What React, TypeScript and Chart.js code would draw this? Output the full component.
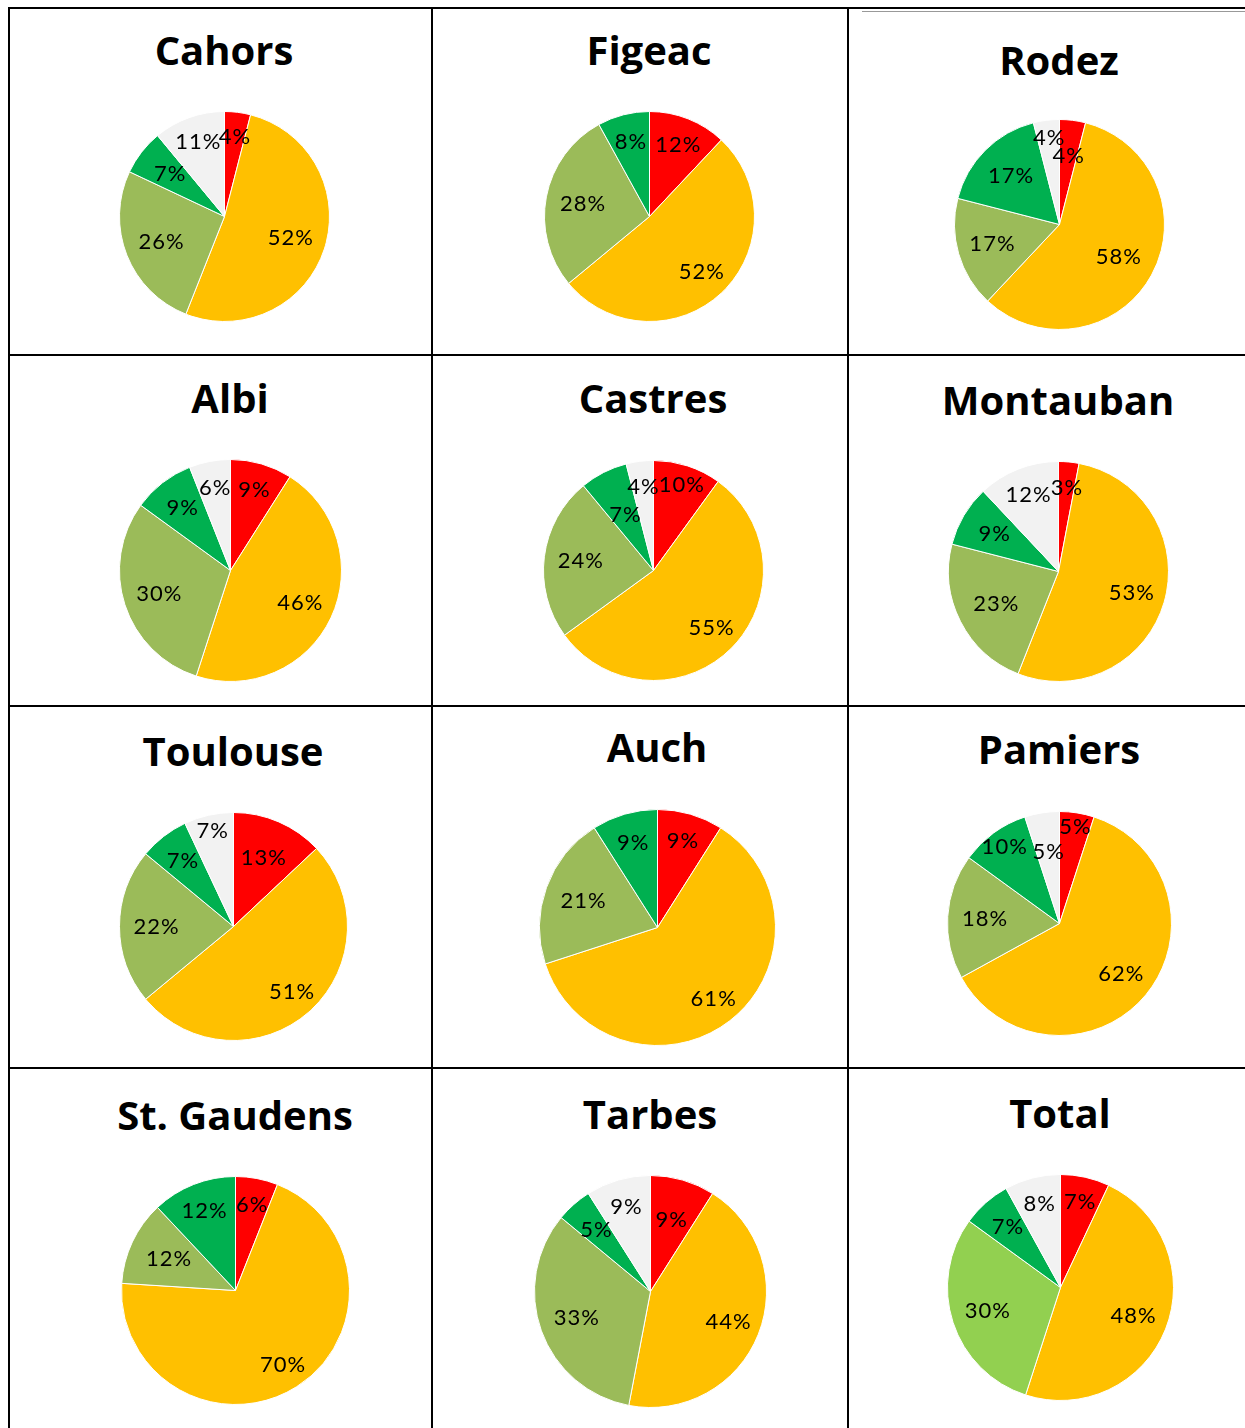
import React, { useEffect, useRef } from "react";
import { Chart, registerables } from "chart.js";

Chart.register(...registerables);

// Slice order (clockwise from 12 o'clock): red, yellow, olive, green, white
const sliceNames = ["Rouge", "Jaune", "Vert clair", "Vert", "Blanc"];
const cities = [
  "Cahors", "Figeac", "Rodez",
  "Albi", "Castres", "Montauban",
  "Toulouse", "Auch", "Pamiers",
  "St. Gaudens", "Tarbes", "Total",
];
const cahors = [4, 52, 26, 7, 11];
const figeac = [12, 52, 28, 8, 0];
const rodez = [4, 58, 17, 17, 4];
const albi = [9, 46, 30, 9, 6];
const castres = [10, 55, 24, 7, 4];
const montauban = [3, 53, 23, 9, 12];
const toulouse = [13, 51, 22, 7, 7];
const auch = [9, 61, 21, 9, 0];
const pamiers = [5, 62, 18, 10, 5];
const stGaudens = [6, 70, 12, 12, 0];
const tarbes = [9, 44, 33, 5, 9];
const total = [7, 48, 30, 7, 8];
const seriesValues = [
  cahors, figeac, rodez,
  albi, castres, montauban,
  toulouse, auch, pamiers,
  stGaudens, tarbes, total,
];

const baseColors = ["#FF0000", "#FFC000", "#9BBB59", "#00B050", "#F2F2F2"];
const totalColors = ["#FF0000", "#FFC000", "#92D050", "#00B050", "#F2F2F2"];

// Layout (page coordinates): pie centre, radius, title centre y,
// and label distance from the centre as a fraction of the radius (per slice)
const layout = [
  { cx: 224, cy: 216, r: 105, ty: 50, lf: [0.76, 0.66, 0.65, 0.66, 0.75] },
  { cx: 649, cy: 216, r: 105, ty: 50, lf: [0.73, 0.72, 0.65, 0.73, 0.7] },
  { cx: 1059, cy: 224, r: 105, ty: 60, lf: [0.66, 0.64, 0.67, 0.66, 0.83] },
  { cx: 230, cy: 570, r: 111, ty: 398, lf: [0.76, 0.69, 0.68, 0.71, 0.76] },
  { cx: 653, cy: 570, r: 110, ty: 398, lf: [0.82, 0.74, 0.67, 0.57, 0.77] },
  { cx: 1058, cy: 571, r: 110, ty: 400, lf: [0.76, 0.69, 0.64, 0.68, 0.75] },
  { cx: 233, cy: 926, r: 114, ty: 751, lf: [0.66, 0.77, 0.68, 0.73, 0.86] },
  { cx: 657, cy: 927, r: 118, ty: 747, lf: [0.76, 0.77, 0.67, 0.75, 0.7] },
  { cx: 1059, cy: 923, r: 112, ty: 749, lf: [0.875, 0.71, 0.67, 0.84, 0.65] },
  { cx: 235, cy: 1290, r: 114, ty: 1115, lf: [0.76, 0.77, 0.65, 0.75, 0.7] },
  { cx: 650, cy: 1291, r: 116, ty: 1114, lf: [0.64, 0.72, 0.68, 0.71, 0.76] },
  { cx: 1060, cy: 1287, r: 113, ty: 1113, lf: [0.78, 0.69, 0.68, 0.71, 0.76] },
];

const labelPlugin = {
  id: "pctLabels",
  afterDatasetsDraw(chart: any, _args: any, opts: any) {
    const ctx = chart.ctx;
    const meta = chart.getDatasetMeta(0);
    const data = chart.data.datasets[0].data as number[];
    const lf: number[] = opts.lf || [];
    ctx.save();
    ctx.font = '22px Lato, "Open Sans", sans-serif';
    try {
      (ctx as any).letterSpacing = "1px";
    } catch (e) {}
    ctx.fillStyle = "#000";
    ctx.textAlign = "center";
    ctx.textBaseline = "middle";
    meta.data.forEach((arc: any, i: number) => {
      const v = data[i];
      if (!v) return;
      const { startAngle, endAngle, outerRadius, x, y } = arc.getProps(
        ["startAngle", "endAngle", "outerRadius", "x", "y"],
        true
      );
      const mid = (startAngle + endAngle) / 2;
      const f = lf[i] ?? 0.72;
      const lx = x + Math.cos(mid) * outerRadius * f;
      const ly = y + Math.sin(mid) * outerRadius * f;
      ctx.fillText(v + "%", lx + 0.5, ly);
    });
    ctx.restore();
  },
};

function Pie({ idx }: { idx: number }) {
  const ref = useRef<HTMLCanvasElement>(null);
  const L = layout[idx];
  const size = 2 * L.r + 1;
  useEffect(() => {
    if (!ref.current) return;
    const chart = new Chart(ref.current, {
      type: "pie",
      data: {
        labels: sliceNames,
        datasets: [
          {
            data: seriesValues[idx],
            backgroundColor: idx === 11 ? totalColors : baseColors,
            borderColor: "#FFFFFF",
            borderWidth: 1,
          },
        ],
      },
      options: {
        responsive: false,
        animation: false,
        devicePixelRatio: 1,
        layout: { padding: 0 },
        plugins: {
          legend: { display: false },
          tooltip: { enabled: false },
          title: { display: false },
          pctLabels: { lf: L.lf },
        } as any,
      },
      plugins: [labelPlugin],
    });
    return () => chart.destroy();
  }, [idx]);
  return (
    <>
      <canvas
        ref={ref}
        width={size}
        height={size}
        style={{
          position: "absolute",
          left: L.cx - size / 2,
          top: L.cy - size / 2,
          width: size,
          height: size,
        }}
      />
      <div
        style={{
          position: "absolute",
          left: L.cx - 200,
          width: 400,
          top: L.ty - 25,
          height: 50,
          lineHeight: "50px",
          textAlign: "center",
          fontFamily: '"Open Sans", sans-serif',
          fontWeight: 700,
          fontSize: 40,
          color: "#000",
          whiteSpace: "nowrap",
        }}
      >
        {cities[idx]}
      </div>
    </>
  );
}

const vLines = [9, 432, 848];
const hLines = [8, 355, 706, 1068];

export default function App() {
  return (
    <div
      style={{
        position: "absolute",
        left: 0,
        top: 0,
        width: 1245,
        height: 1428,
        overflow: "hidden",
        background: "#fff",
      }}
    >
      {hLines.map((y) => (
        <div
          key={"h" + y}
          style={{ position: "absolute", left: 8, top: y - 1, width: 1245 - 8, height: 2, background: "#000" }}
        />
      ))}
      {vLines.map((x) => (
        <div
          key={"v" + x}
          style={{ position: "absolute", left: x - 1, top: 7, width: 2, height: 1428 - 7, background: "#000" }}
        />
      ))}
      <div style={{ position: "absolute", left: 862, top: 11, width: 1245 - 862, height: 1, background: "#999" }} />
      {cities.map((_, i) => (
        <Pie key={i} idx={i} />
      ))}
    </div>
  );
}
